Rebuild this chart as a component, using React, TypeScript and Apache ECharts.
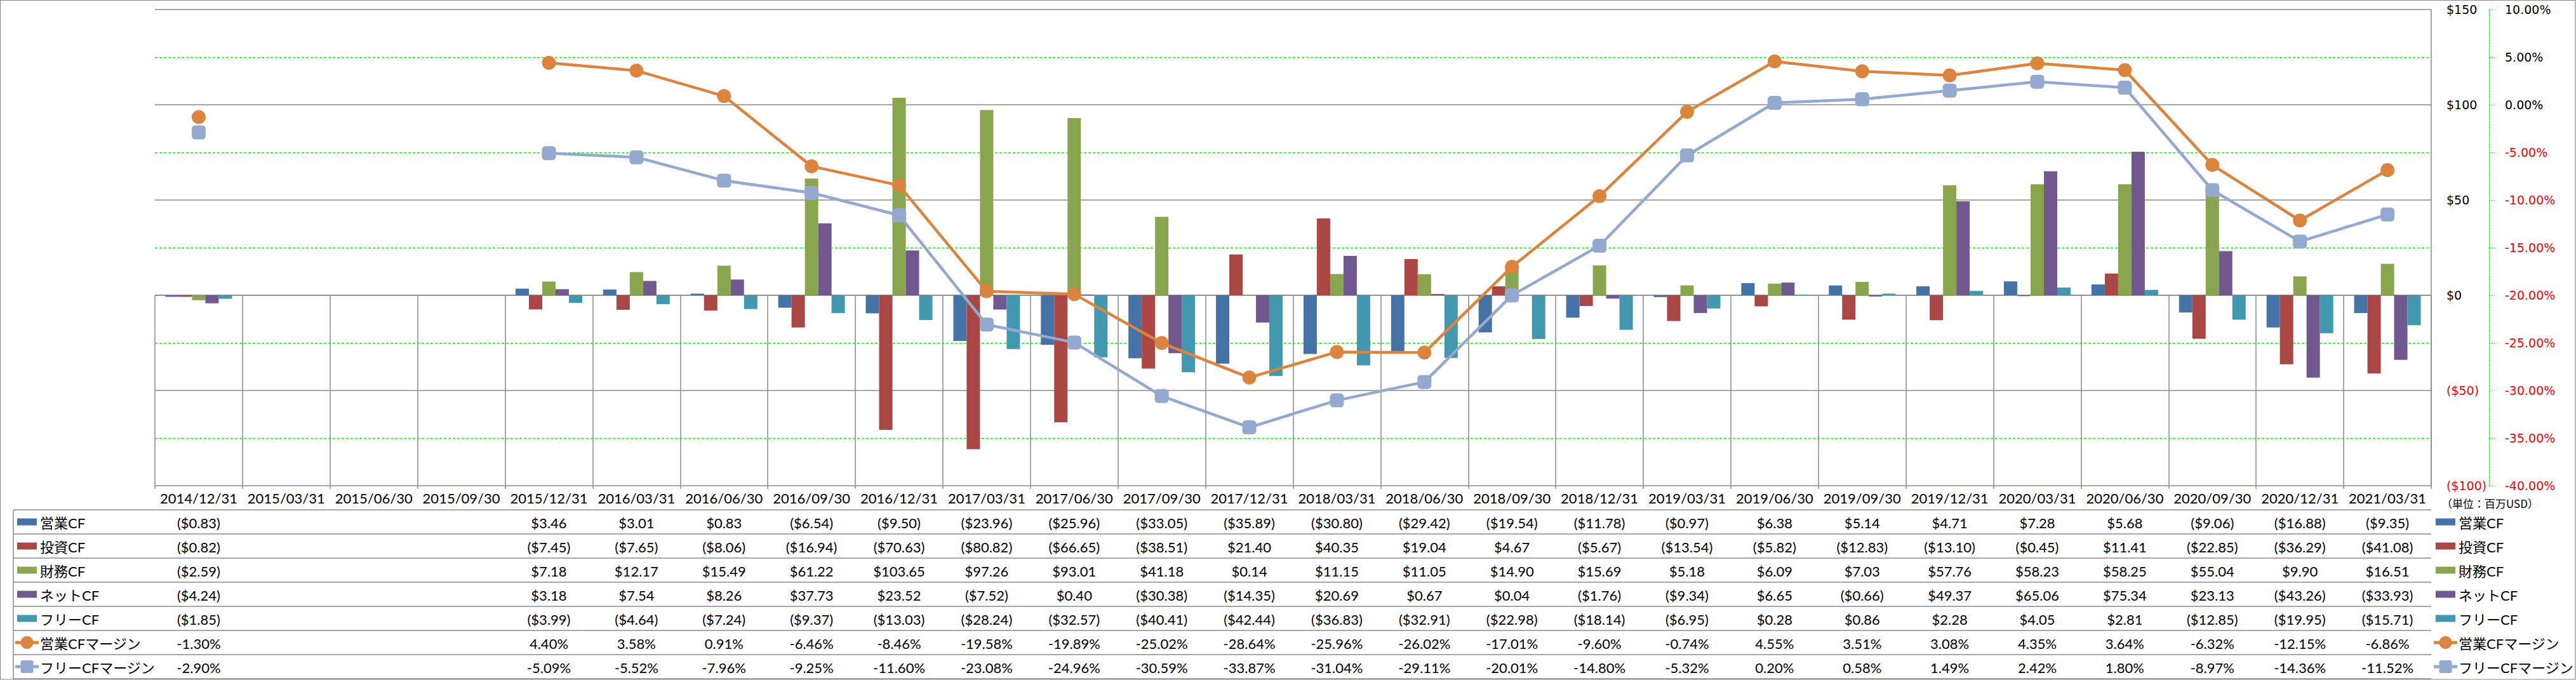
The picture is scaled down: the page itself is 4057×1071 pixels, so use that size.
import React, { useEffect, useRef } from 'react';
import * as echarts from 'echarts';

// ---------- data ----------
const categories = [
  '2014/12/31', '2015/03/31', '2015/06/30', '2015/09/30', '2015/12/31', '2016/03/31',
  '2016/06/30', '2016/09/30', '2016/12/31', '2017/03/31', '2017/06/30', '2017/09/30',
  '2017/12/31', '2018/03/31', '2018/06/30', '2018/09/30', '2018/12/31', '2019/03/31',
  '2019/06/30', '2019/09/30', '2019/12/31', '2020/03/31', '2020/06/30', '2020/09/30',
  '2020/12/31', '2021/03/31',
];

const operatingCF = [-0.83, null, null, null, 3.46, 3.01, 0.83, -6.54, -9.5, -23.96, -25.96, -33.05, -35.89, -30.8, -29.42, -19.54, -11.78, -0.97, 6.38, 5.14, 4.71, 7.28, 5.68, -9.06, -16.88, -9.35];
const investingCF = [-0.82, null, null, null, -7.45, -7.65, -8.06, -16.94, -70.63, -80.82, -66.65, -38.51, 21.4, 40.35, 19.04, 4.67, -5.67, -13.54, -5.82, -12.83, -13.1, -0.45, 11.41, -22.85, -36.29, -41.08];
const financingCF = [-2.59, null, null, null, 7.18, 12.17, 15.49, 61.22, 103.65, 97.26, 93.01, 41.18, 0.14, 11.15, 11.05, 14.9, 15.69, 5.18, 6.09, 7.03, 57.76, 58.23, 58.25, 55.04, 9.9, 16.51];
const netCF = [-4.24, null, null, null, 3.18, 7.54, 8.26, 37.73, 23.52, -7.52, 0.4, -30.38, -14.35, 20.69, 0.67, 0.04, -1.76, -9.34, 6.65, -0.66, 49.37, 65.06, 75.34, 23.13, -43.26, -33.93];
const freeCF = [-1.85, null, null, null, -3.99, -4.64, -7.24, -9.37, -13.03, -28.24, -32.57, -40.41, -42.44, -36.83, -32.91, -22.98, -18.14, -6.95, 0.28, 0.86, 2.28, 4.05, 2.81, -12.85, -19.95, -15.71];
const operatingMargin = [-1.3, null, null, null, 4.4, 3.58, 0.91, -6.46, -8.46, -19.58, -19.89, -25.02, -28.64, -25.96, -26.02, -17.01, -9.6, -0.74, 4.55, 3.51, 3.08, 4.35, 3.64, -6.32, -12.15, -6.86];
const freeMargin = [-2.9, null, null, null, -5.09, -5.52, -7.96, -9.25, -11.6, -23.08, -24.96, -30.59, -33.87, -31.04, -29.11, -20.01, -14.8, -5.32, 0.2, 0.58, 1.49, 2.42, 1.8, -8.97, -14.36, -11.52];

const barNames = ['営業CF', '投資CF', '財務CF', 'ネットCF', 'フリーCF'];
const lineNames = ['営業CFマージン', 'フリーCFマージン'];
const barSeriesData = [operatingCF, investingCF, financingCF, netCF, freeCF];
const lineSeriesData = [operatingMargin, freeMargin];

const usdAxis = { min: -100, max: 150, step: 50 };
const pctAxis = { min: -40, max: 10, step: 5 };
const unitLabel = '（単位：百万USD）';

// ---------- styles ----------
const BAR_COLORS = ['#4572A7', '#AA4643', '#89A54E', '#71588F', '#4198AF'];
const LINE_COLORS = ['#DB843D', '#93A9CF'];
const LINE_SYMBOLS = ['circle', 'roundRect'];
const GRAY = '#8a8a8a';
const GREEN = '#00ee00';
const TABLE_FONT = 'Lato, "Noto Sans CJK JP", sans-serif';
const AXIS_FONT = '"DejaVu Sans", Verdana, sans-serif';

const W = 4057;
const H = 1071;
const GRID = { left: 244, right: 228, top: 15, bottom: 306 };
const TABLE_TOP = H - GRID.bottom; // 765
const HEADER_H = 38;
const ROW_H = 38;

const fmtMoney = (v: number | null) =>
  v == null ? '' : v < 0 ? `($${Math.abs(v).toFixed(2)})` : `$${v.toFixed(2)}`;
const fmtPct = (v: number | null) => (v == null ? '' : `${v.toFixed(2)}%`);

export default function App() {
  const ref = useRef<HTMLDivElement>(null);

  useEffect(() => {
    const prevMargin = document.body.style.margin;
    document.body.style.margin = '0';
    const chart = echarts.init(ref.current as HTMLDivElement, null, { renderer: 'svg' });

    const series: any[] = [];
    barNames.forEach((name, i) => {
      series.push({
        type: 'bar',
        name,
        yAxisIndex: 0,
        data: barSeriesData[i],
        barWidth: 21,
        barGap: '0%',
        itemStyle: { color: BAR_COLORS[i] },
      });
    });
    lineNames.forEach((name, i) => {
      series.push({
        type: 'line',
        name,
        yAxisIndex: 1,
        data: lineSeriesData[i],
        symbol: LINE_SYMBOLS[i],
        symbolSize: 22,
        showSymbol: true,
        showAllSymbol: true,
        connectNulls: false,
        lineStyle: { color: LINE_COLORS[i], width: 4.5 },
        itemStyle: { color: LINE_COLORS[i] },
        z: 5,
      });
    });

    chart.setOption({
      animation: false,
      backgroundColor: '#ffffff',
      grid: { ...GRID, containLabel: false },
      xAxis: {
        type: 'category',
        data: categories,
        boundaryGap: true,
        axisLine: { show: true, lineStyle: { color: GRAY, width: 1.5 } },
        axisTick: { show: true, interval: 0, length: H - TABLE_TOP - 1, lineStyle: { color: GRAY, width: 1.5 } },
        axisLabel: {
          interval: 0,
          margin: HEADER_H / 2,
          verticalAlign: 'middle',
          color: '#000',
          fontSize: 22,
          fontFamily: TABLE_FONT,
        },
      },
      yAxis: [
        {
          type: 'value',
          position: 'right',
          min: usdAxis.min,
          max: usdAxis.max,
          interval: usdAxis.step,
          axisLine: { show: true, lineStyle: { color: GRAY, width: 1.5 } },
          axisTick: { show: false },
          axisLabel: {
            margin: 24,
            fontSize: 19,
            fontFamily: AXIS_FONT,
            formatter: (v: number) => (v < 0 ? `{n|($${Math.abs(v)})}` : `{p|$${v}}`),
            rich: {
              p: { color: '#000', fontSize: 19, fontFamily: AXIS_FONT },
              n: { color: '#ff0000', fontSize: 19, fontFamily: AXIS_FONT },
            },
          },
          splitLine: { show: true, lineStyle: { color: GRAY, width: 1.5 } },
          minorTick: { show: false, splitNumber: 2 },
          minorSplitLine: { show: true, lineStyle: { color: GREEN, width: 1, type: [4, 3] } },
        },
        {
          type: 'value',
          position: 'right',
          offset: 91,
          min: pctAxis.min,
          max: pctAxis.max,
          interval: pctAxis.step,
          axisLine: { show: true, lineStyle: { color: GREEN, width: 1, type: [2, 2] } },
          axisTick: { show: true, length: 9, lineStyle: { color: GREEN, width: 1, type: [2, 2] } },
          axisLabel: {
            margin: 25,
            fontSize: 19,
            fontFamily: AXIS_FONT,
            formatter: (v: number) => (v < 0 ? `{n|${v.toFixed(2)}%}` : `{p|${v.toFixed(2)}%}`),
            rich: {
              p: { color: '#000', fontSize: 19, fontFamily: AXIS_FONT },
              n: { color: '#ff0000', fontSize: 19, fontFamily: AXIS_FONT },
            },
          },
          splitLine: { show: false },
        },
      ],
      series,
    });

    // ---------- data table & legends (graphic) ----------
    const xs = categories.map((_, i) => chart.convertToPixel({ xAxisIndex: 0 }, i) as number);
    const plotRight = W - GRID.right;
    const legendLeft = 21;
    const rowsTop = TABLE_TOP + HEADER_H;
    const rowCount = barNames.length + lineNames.length;
    const els: any[] = [];

    const txt = (text: string, x: number, y: number, align: string, size: number, family = TABLE_FONT) => ({
      type: 'text',
      silent: true,
      style: {
        text, x, y, fill: '#000', fontSize: size, fontFamily: family,
        align, verticalAlign: 'middle', textAlign: align, textVerticalAlign: 'middle',
      },
      z: 10,
    });
    const hline = (x1: number, x2: number, y: number, color = GRAY, w = 1.5) => ({
      type: 'line', silent: true, shape: { x1, y1: y, x2, y2: y }, style: { stroke: color, lineWidth: w }, z: 10,
    });
    const vline = (x: number, y1: number, y2: number, color = GRAY, w = 1.5) => ({
      type: 'line', silent: true, shape: { x1: x, y1, x2: x, y2 }, style: { stroke: color, lineWidth: w }, z: 10,
    });

    // outer border
    els.push({ type: 'rect', silent: true, shape: { x: 0.5, y: 0.5, width: W - 1.5, height: H - 1.5 }, style: { fill: 'none', stroke: GRAY, lineWidth: 1.2 }, z: 10 });

    // row lines
    for (let r = 0; r <= rowCount; r++) {
      const y = Math.min(rowsTop + ROW_H * r, H - 1.5);
      els.push(hline(legendLeft, plotRight, y));
    }
    els.push(vline(legendLeft, rowsTop, H - 1));

    const legendIcon = (kind: 'bar' | 'line', idx: number, x0: number, cy: number) => {
      if (kind === 'bar') {
        els.push({ type: 'rect', silent: true, shape: { x: x0 + 3, y: cy - 5.5, width: 31, height: 11 }, style: { fill: BAR_COLORS[idx] }, z: 11 });
      } else {
        const color = LINE_COLORS[idx];
        els.push({ type: 'line', silent: true, shape: { x1: x0, y1: cy, x2: x0 + 37, y2: cy }, style: { stroke: color, lineWidth: 5 }, z: 11 });
        const mx = x0 + 18.5;
        if (idx === 0) {
          els.push({ type: 'circle', silent: true, shape: { cx: mx, cy, r: 10 }, style: { fill: color }, z: 12 });
        } else {
          els.push({ type: 'rect', silent: true, shape: { x: mx - 10, y: cy - 10, width: 20, height: 20, r: 3 }, style: { fill: color }, z: 12 });
        }
      }
    };

    const rowDefs: { kind: 'bar' | 'line'; idx: number; name: string; values: (number | null)[]; fmt: (v: number | null) => string }[] = [
      ...barNames.map((name, i) => ({ kind: 'bar' as const, idx: i, name, values: barSeriesData[i], fmt: fmtMoney })),
      ...lineNames.map((name, i) => ({ kind: 'line' as const, idx: i, name, values: lineSeriesData[i], fmt: fmtPct })),
    ];

    rowDefs.forEach((row, r) => {
      const cy = rowsTop + ROW_H * r + ROW_H / 2;
      // left legend
      legendIcon(row.kind, row.idx, 24, cy);
      els.push(txt(row.name, 63, cy + 1, 'left', 22));
      // right legend
      legendIcon(row.kind, row.idx, plotRight + 4, cy);
      els.push(txt(row.name, plotRight + 43, cy + 1, 'left', 22));
      // values
      row.values.forEach((v, i) => {
        const s = row.fmt(v);
        if (s) els.push(txt(s, xs[i], cy + 1, 'center', 22));
      });
    });

    els.push(txt(unitLabel, plotRight + 16, TABLE_TOP + 27, 'left', 17, '"Noto Sans CJK JP", sans-serif'));

    chart.setOption({ graphic: { elements: els } });

    return () => {
      chart.dispose();
      document.body.style.margin = prevMargin;
    };
  }, []);

  return <div ref={ref} style={{ width: W, height: H }} />;
}
